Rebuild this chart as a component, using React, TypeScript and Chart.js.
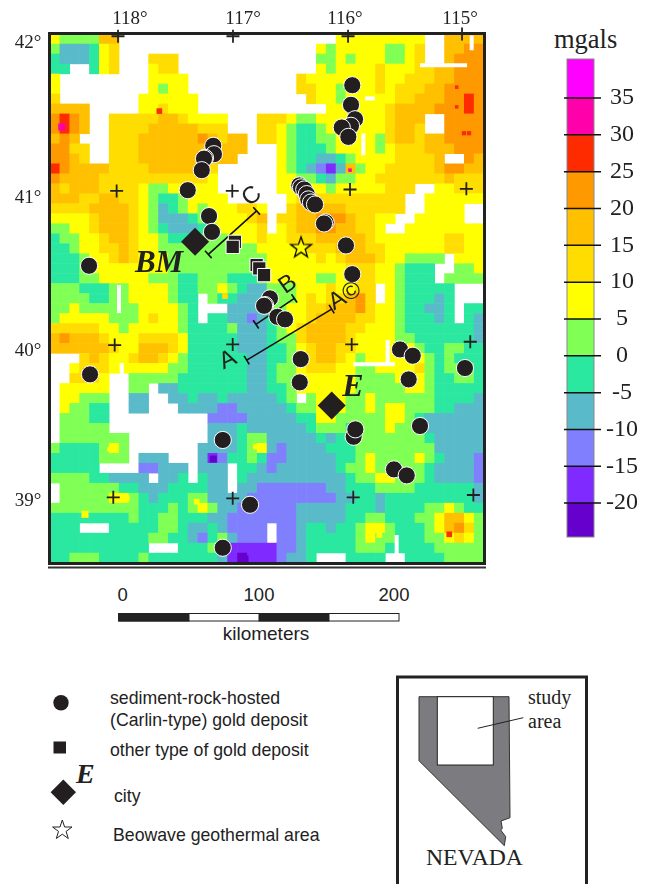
import React, { useEffect, useRef } from "react";
import { Chart, registerables } from "chart.js";

Chart.register(...registerables);

// Gravity levels: one key per colour-bar class
const levelKeys = ["a", "b", "c", "d", "e", "f", "g", "h", "i", "j", "k", "l", "m"];
const levelColors = ["#6600CC", "#7F2BFF", "#8080FF", "#59BBC9", "#2BE8A0", "#80FF55", "#FFFF00", "#FFDD00", "#FFC000", "#FF9900", "#FF2B00", "#FF00AA", "#FF00FF"];
const levelLows = [-24.6, -20, -15, -10, -5, 0, 5, 10, 15, 20, 25, 30, 35];
const levelHighs = [-20, -15, -10, -5, 0, 5, 10, 15, 20, 25, 30, 35, 40.3];
const colorTicks = [35, 30, 25, 20, 15, 10, 5, 0, -5, -10, -15, -20];

// Map extent in kilometres
const mapWidthKm = 310;
const mapHeightKm = 378;

// Gravity grid, north to south, west half + east half, "." = no data
const gravityRows = [
  "gffffii............... .......ggggggggg..iiii",
  "fdddegh............... .....gfgggggffgh..iijj",
  "edddegh...hhh......... .....ffgfgggffgh..ijjj",
  "ee..egh...ghh......... .....gfgggghggghhiijjj",
  "g.........gggg........ ...hggggggghgghhhiijjj",
  "g.........gfgg........ ...hhggfggghghhhiijjjj",
  "h........gggggg....... ....hggfggggghhiiijjkj",
  "iiii.....gghggg....... ......gggggghiiiijjjkj",
  "jkji..hhhhhiihgggg...h hhgffggggggghiii..jjjj",
  "jkji..hhhhiiiiihhh...h hgfeefgggggghiih..jjjj",
  "iji...hhhiiiiiijihii.h hgfeeffggggfhiihiijjjj",
  "jjhh..hhhiiiiiiiiiii.. .gfeeefggggfghhhiiijjj",
  "jjih..hhhiiiiiiiiii... .gfeeddefgggghhhhi..ji",
  "kjiiiihhhhiiiiiih..... .gfedcbdifgghhhhhijjii",
  "jiiiihhhhhhhhhhhg..... .ggffedffgghhhhhhhihhh",
  "ihiiihhhhgffggggg..... .gggggfggggghhh..gghhh",
  "iiihhiihhgfeefgggg.... ..ghhhhhhhhhhh..gggggg",
  "hhhhiiiihgfdefgfggghhg ..hiiiiihhhhhh..gggg..",
  "gggghiiihgfdddefgggghi .hhiijjjihhgg..ggggg..",
  "ffgghiiihgfedddefggggh .ghiijjiihhg..gggggggg",
  "effgghiihggfeeefffgggh gghhhiiiiihggggggghhgg",
  "eefgghhihggffffffffffg gggghhhiiihhgggggghhgg",
  "eeefgghihgggffffffffff ggggghghiiihggffff.ggg",
  "eeefggggggggffffffffff gggggggghhhggfeee..ffg",
  "eeeffgggggfffeefffeeef gggggffgghhggfeee.ffff",
  "fffeeeffggggfeeffgfedd fffggghgghh.gfeeeee...",
  "ffffeeffggggfee.feeddd fffghghhijh.gfeeede...",
  "ffgffffffggggfe...dddd ffgghhiiijhggfeedde.ee",
  "fgggggfffghggfe.eeddcd efgghiiiihhggfeeede.ed",
  "hhhhhggfgggggfeeeefddd efghiiiihhgggfeeeeeeed",
  "ijiiihggghhhhgeeeeeddd effhiiiihggggffeeeeeed",
  "iiiiiihggiiihgeeeeeddd eefghiihhggggggfeeffee",
  "...hihgghiihgfeeeeeedd eefghiihgfggggggfefeee",
  "..ghhhggggggffeeeeeedd effghhhggffgggghfefffe",
  "..hhhg..fffffeeeeeeedd effggggggffffgggfeeffe",
  ".ggggg..ff.ddeeeeeeedd eefggggggfffffggfeeeee",
  ".ggfff..dd..ddeddedddd def.fgggffgffffffeeeed",
  ".gffee..dd...ddddccddd ddeffgggffgfggfffeeddd",
  ".fffee..........ccccdd dddeeggfffffggfedddddd",
  ".fffff..........dddedd ddddefffefffgfffdddddd",
  ".fffffff........dddeff dddddedeefffffffeddddd",
  "feeeefgf.......ddddefg dcddddeeeffffffffddddd",
  "eeeeefff.ddd...dbceefe ccdddddeefgffffgfedddc",
  "eeeee....ccddd.ddd.eed cddddddeffgfffffeddddc",
  "ffffeedddd.dde.edd.edd ddddddddeffggfffeddddc",
  ".ffffffeedddeeeedd.ddc ccccccddeeeffffeeeeeed",
  ".fffffggfedeeeffddddcc cccccccddeedeeeeeeeeed",
  "fffffffffeeefefgfddccc cccdddddeeedeeeeffgfee",
  "eeeeeeeefeeffeeeddcccc cccdddddeeffeeeffgiigf",
  "eee...eeeeeffeddedcccc .ccdeedeefggfeeefgijhf",
  "eeeeeeeeeeffeedcefdccc .ccdeeeeefgffeeeffghgf",
  "eeeeeeeeee...eeefdbbbb bccdeeeeefffeeeeefffff",
  "eefffeeeefeeeeeeedbabb bcdde...eeee..eeeeffff",
];

// Small anomalies finer than the grid: [km east, km north, level, marker radius]
const gravitySpots: [number, number, string, number][] = [
  [78.1, 322.9, "k", 4], [8.4, 311.6, "l", 5], [214.3, 280.7, "l", 2.5],
  [295.7, 307.1, "k", 3], [299.3, 307.1, "k", 3], [290.5, 340, "k", 2.5], [290.5, 325.9, "k", 2.5],
  [285.2, 20.5, "k", 4], [116.6, 74.3, "a", 5], [139.3, 2.9, "a", 5],
  [147.1, 83.1, "g", 4], [104.8, 43.8, "g", 4], [54.8, 46.2, "g", 4], [42.4, 81.2, "g", 3],
  [125, 190.7, "h", 4], [25, 34.8, "g", 5], [235.2, 20, "g", 4],
];

// Thin no-data strips: [x1, y1, x2, y2] in km
const noDataStrips = [
  [216.7, 142.1, 246.4, 142.1], [241.2, 159.3, 241.2, 140.7], [223.8, 307.1, 223.8, 291.4],
  [49.3, 198.6, 49.3, 178.6], [51.2, 143, 51.2, 134], [301.2, 377, 301.2, 366.4],
  [264.3, 355.7, 297.9, 355.7], [247.6, 20, 247.6, 0.7], [225, 332, 232, 332],
];

// Graticule crossings, km east / km north
const graticuleX = [48.6, 130.7, 212.9, 294.3, 47.6, 130.2, 214.3, 297.4, 46.2, 130.5, 215.5, 300.2, 45.2, 130.5, 216.6, 302.4];
const graticuleY = [376.4, 376.4, 376.4, 378, 265.9, 265.9, 266.9, 267.4, 155.7, 156.2, 156.2, 158.1, 46.9, 46.2, 46.9, 48.6];

// Carlin-type deposits
const carlinX = [116.6, 117.1, 110.7, 110, 108.4, 98.4, 113.6, 115.7, 27.9, 215.9, 215, 217.9, 215, 208.4, 213.1, 178.1, 179.3, 181.6, 183.4, 184.5, 186.4, 189.3, 196.9, 195.7, 211.4, 215.9, 28.6, 123.4, 142.9, 123.4, 157.1, 153.6, 152.9, 162.4, 167.9, 179.1, 178.4, 250, 259.1, 256.2, 296.4, 216.9, 218.1, 264.3, 245.7, 254.8];
const carlinY = [298.1, 292.1, 289.5, 288.9, 280.7, 266.4, 247.9, 236.6, 212.4, 341.4, 327.4, 317.1, 312.4, 311.2, 304.5, 269.8, 268.4, 266.9, 263.6, 259.8, 257.6, 256.2, 243.4, 242.6, 226.9, 206.4, 134.8, 87.9, 41.6, 10.9, 189.1, 184.3, 183.8, 175.9, 174.1, 145.7, 129.1, 152.6, 148.1, 131.2, 139.3, 90.2, 95.5, 97.9, 66.9, 62.6];

// Other gold deposits
const otherX = [132.1, 130.5, 147.6, 149.5, 152.9];
const otherY = [229.5, 225.9, 212.9, 210.5, 205.7];

// Cities, geothermal area
const cityX = [103.6, 201.2];
const cityY = [229.5, 112.6];
const geothermalX = [179.3];
const geothermalY = [225.5];

// Section lines: start x, start y, end x, end y, cap rotation
const sectionLines = [
  [140.5, 145, 201.2, 181.4, 59],
  [147.1, 170.5, 174.5, 189.1, 56],
  [113.1, 220.5, 147.6, 251.6, 48],
];

// Text on the map: text, km east, km north, rotation, font
const SERIF = '"Liberation Serif"';
const SANS = '"Liberation Sans"';
const mapLabels: [string, number, number, number, string][] = [
  ["118°", 57.1, 388.5, 0, `19px ${SERIF}`],
  ["117°", 137.9, 388.5, 0, `19px ${SERIF}`],
  ["116°", 210.7, 388.5, 0, `19px ${SERIF}`],
  ["115°", 292.9, 388.5, 0, `19px ${SERIF}`],
  ["42°", -15.7, 371.5, 0, `19px ${SERIF}`],
  ["41°", -15.7, 260.5, 0, `19px ${SERIF}`],
  ["40°", -15.7, 151.5, 0, `19px ${SERIF}`],
  ["39°", -15.7, 44.5, 0, `19px ${SERIF}`],
  ["BM", 77.9, 213.5, 0, `italic bold 31px ${SERIF}`],
  ["E", 216.4, 125, 0, `italic bold 32px ${SERIF}`],
  ["A", 127.1, 145, -25, `24px ${SANS}`],
  ["A©", 210.7, 190.7, -31, `24px ${SANS}`],
  ["B", 170, 199, -35, `24px ${SANS}`],
  ["C", 144.3, 262.1, -42, `24px ${SANS}`],
];

const colorOf = (k: string) => levelColors[levelKeys.indexOf(k)];

function gravityCells() {
  const cells: { x: number; y: number; v: string }[] = [];
  const nRows = gravityRows.length;
  gravityRows.forEach((row, r) => {
    const [west, east] = row.split(" ");
    const line = west.padEnd(22, ".") + east.padEnd(22, ".");
    for (let c = 0; c < line.length; c++) {
      if (line[c] === ".") continue;
      cells.push({
        x: ((c + 0.5) * mapWidthKm) / 44,
        y: mapHeightKm - ((r + 0.5) * mapHeightKm) / nRows,
        v: line[c],
      });
    }
  });
  return cells;
}

function starCanvas() {
  const s = document.createElement("canvas");
  s.width = 26;
  s.height = 26;
  const g = s.getContext("2d")!;
  g.beginPath();
  for (let i = 0; i < 10; i++) {
    const r = i % 2 === 0 ? 11 : 4.4;
    const a = -Math.PI / 2 + (i * Math.PI) / 5;
    const px = 13 + r * Math.cos(a);
    const py = 13.5 + r * Math.sin(a);
    if (i === 0) g.moveTo(px, py);
    else g.lineTo(px, py);
  }
  g.closePath();
  g.strokeStyle = "#000";
  g.lineWidth = 1.3;
  g.stroke();
  return s;
}

const mapFrame = {
  id: "mapFrame",
  afterDatasetsDraw(chart: any) {
    const { ctx, chartArea: a, scales } = chart;
    ctx.save();
    ctx.strokeStyle = "#222";
    ctx.lineWidth = 3;
    ctx.strokeRect(a.left - 0.5, a.top - 0.5, a.right - a.left + 1, a.bottom - a.top + 1);
    ctx.lineWidth = 2;
    ctx.strokeStyle = "#333";
    ctx.beginPath();
    ctx.moveTo(a.left - 2, a.bottom + 4.5);
    ctx.lineTo(a.right + 2, a.bottom + 4.5);
    ctx.stroke();
    ctx.fillStyle = "#222";
    ctx.textAlign = "center";
    ctx.textBaseline = "middle";
    for (const [text, x, y, rot, font] of mapLabels) {
      ctx.save();
      ctx.translate(scales.x.getPixelForValue(x), scales.y.getPixelForValue(y));
      ctx.rotate((rot * Math.PI) / 180);
      ctx.font = font;
      ctx.fillText(text, 0, 0);
      ctx.restore();
    }
    ctx.restore();
  },
};

const colorBarTicks = {
  id: "colorBarTicks",
  afterDatasetsDraw(chart: any) {
    const { ctx, chartArea: a, scales } = chart;
    ctx.save();
    ctx.strokeStyle = "#888";
    ctx.lineWidth = 1;
    ctx.strokeRect(a.left, a.top, a.right - a.left, a.bottom - a.top);
    ctx.strokeStyle = "#111";
    ctx.lineWidth = 1.5;
    for (const t of colorTicks) {
      const y = scales.y.getPixelForValue(t);
      ctx.beginPath();
      ctx.moveTo(a.left - 3, y);
      ctx.lineTo(a.right + 7, y);
      ctx.stroke();
    }
    ctx.restore();
  },
};

const pts = (xs: number[], ys: number[]) => xs.map((x, i) => ({ x, y: ys[i] }));

export default function App() {
  const mapRef = useRef<HTMLCanvasElement>(null);
  const barRef = useRef<HTMLCanvasElement>(null);

  useEffect(() => {
    const datasets: any[] = [
      {
        label: "Gravity",
        data: gravityCells(),
        order: 20,
        pointStyle: "rect",
        pointRadius: 7.4,
        pointBorderWidth: 0,
        backgroundColor: (c: any) => colorOf(c.raw?.v ?? "e"),
      },
      {
        label: "Spots",
        data: gravitySpots.map(([x, y, v, r]) => ({ x, y, v, r })),
        order: 19,
        pointStyle: "rect",
        pointRadius: (c: any) => c.raw?.r ?? 3,
        pointBorderWidth: 0,
        backgroundColor: (c: any) => colorOf(c.raw?.v ?? "k"),
      },
      ...noDataStrips.map((s) => ({
        label: "No data",
        data: [{ x: s[0], y: s[1] }, { x: s[2], y: s[3] }],
        order: 18,
        showLine: true,
        borderColor: "#fff",
        borderWidth: 4,
        pointRadius: 0,
      })),
      {
        label: "Graticule",
        data: pts(graticuleX, graticuleY),
        order: 15,
        clip: false,
        pointStyle: "cross",
        pointRadius: 6.5,
        pointBorderColor: "#222",
        pointBorderWidth: 1.8,
      },
      ...sectionLines.map((s) => ({
        label: "Section",
        data: [{ x: s[0], y: s[1] }, { x: s[2], y: s[3] }],
        order: 12,
        clip: false,
        showLine: true,
        borderColor: "#111",
        borderWidth: 1.6,
        pointStyle: "line",
        pointRotation: s[4],
        pointRadius: 5,
        pointBorderColor: "#111",
        pointBorderWidth: 1.6,
      })),
      {
        label: "Geothermal",
        data: pts(geothermalX, geothermalY),
        order: 11,
        pointStyle: starCanvas(),
        pointRadius: 12,
      },
      {
        label: "Other",
        data: pts(otherX, otherY),
        order: 10,
        pointStyle: "rect",
        pointRadius: 9.4,
        pointBackgroundColor: "#231F20",
        pointBorderColor: "#fff",
        pointBorderWidth: 1,
      },
      {
        label: "Carlin",
        data: pts(carlinX, carlinY),
        order: 9,
        pointStyle: "circle",
        pointRadius: 8.6,
        pointBackgroundColor: "#231F20",
        pointBorderColor: "#fff",
        pointBorderWidth: 1,
      },
      {
        label: "City",
        data: pts(cityX, cityY),
        order: 8,
        pointStyle: "rectRot",
        pointRadius: 14,
        pointBackgroundColor: "#231F20",
        pointBorderWidth: 0,
      },
    ];

    const map = new Chart(mapRef.current!, {
      type: "scatter",
      data: { datasets },
      options: {
        animation: false,
        responsive: false,
        events: [],
        layout: { padding: { left: 50, top: 34, right: 166, bottom: 37 } },
        scales: {
          x: { type: "linear", min: 0, max: mapWidthKm, display: false },
          y: { type: "linear", min: 0, max: mapHeightKm, display: false },
        },
        plugins: { legend: { display: false }, tooltip: { enabled: false } },
      },
      plugins: [mapFrame],
    } as any);

    const bar = new Chart(barRef.current!, {
      type: "bar",
      data: {
        labels: ["mgals"],
        datasets: levelKeys.map((k, i) => ({
          label: k,
          data: [[levelLows[i], levelHighs[i]]],
          backgroundColor: levelColors[i],
          borderWidth: 0,
          grouped: false,
          barPercentage: 1,
          categoryPercentage: 1,
        })),
      },
      options: {
        animation: false,
        responsive: false,
        events: [],
        layout: { padding: { left: 27, top: 9, right: 0, bottom: 13 } },
        scales: {
          x: { display: false },
          y: {
            type: "linear",
            position: "right",
            min: -24.6,
            max: 40.3,
            afterBuildTicks: (s: any) => {
              s.ticks = colorTicks.map((value) => ({ value }));
            },
            afterFit: (s: any) => {
              s.width = 56;
              s.paddingTop = 0;
              s.paddingBottom = 0;
            },
            grid: { display: false, drawTicks: false },
            border: { display: false },
            ticks: {
              crossAlign: "center",
              padding: 12,
              autoSkip: false,
              color: "#222",
              font: { family: "Liberation Serif", size: 24 },
            },
          },
        },
        plugins: { legend: { display: false }, tooltip: { enabled: false } },
      },
      plugins: [colorBarTicks],
    } as any);

    return () => {
      map.destroy();
      bar.destroy();
    };
  }, []);

  const sans = { fontFamily: SANS, fill: "#222" };
  const serif = { fontFamily: SERIF, fill: "#222" };
  return (
    <div style={{ position: "absolute", left: 0, top: 0, width: 650, height: 884, overflow: "hidden", background: "#fff" }}>
      <svg width={650} height={884} style={{ position: "absolute", left: 0, top: 0 }}>
        <text x={554} y={48} fontSize={26.5} style={serif}>mgals</text>

        <text x={122.7} y={601} fontSize={18.5} textAnchor="middle" style={sans}>0</text>
        <text x={259} y={601} fontSize={18.5} textAnchor="middle" style={sans}>100</text>
        <text x={394} y={601} fontSize={18.5} textAnchor="middle" style={sans}>200</text>
        <rect x={118.5} y={613.5} width={280.5} height={7.5} fill="#fff" stroke="#222" strokeWidth={1} />
        <rect x={118.5} y={613} width={71} height={8.5} fill="#222" />
        <rect x={258.5} y={613} width={71} height={8.5} fill="#222" />
        <text x={266} y={640} fontSize={19} textAnchor="middle" style={sans}>kilometers</text>

        <circle cx={61} cy={702.7} r={7.7} fill="#231F20" />
        <text x={110} y={704} fontSize={17.7} style={sans}>sediment-rock-hosted</text>
        <text x={110} y={726} fontSize={17.7} style={sans}>(Carlin-type) gold deposit</text>
        <rect x={53.5} y={741.5} width={12.5} height={12} fill="#231F20" />
        <text x={110} y={756} fontSize={17.7} style={sans}>other type of gold deposit</text>
        <text x={76} y={783} fontSize={28} fontStyle="italic" fontWeight="bold" style={serif}>E</text>
        <polygon points="63.3,779.6 76,792.3 63.3,805 50.6,792.3" fill="#231F20" />
        <text x={114} y={802} fontSize={17.7} style={sans}>city</text>
        <polygon
          points="62.3,820 64.6,827 72,827 66.1,831.4 68.3,838.5 62.3,834.2 56.3,838.5 58.5,831.4 52.6,827 60,827"
          fill="none"
          stroke="#222"
          strokeWidth={1}
        />
        <text x={113} y={841} fontSize={17.7} style={sans}>Beowave geothermal area</text>

        <path d="M397.5 890 V677 H586.5 V890" fill="none" stroke="#222" strokeWidth={3} />
        <polygon
          points="419,696.7 509,696.7 510,817.7 501,821 502.3,828.3 500.7,830 505.7,836.7 504.3,845.7 419,760.7"
          fill="#7B7B80"
          stroke="#333"
          strokeWidth={1}
        />
        <rect x={437.3} y={696.7} width={56} height={68.3} fill="#fff" stroke="#222" strokeWidth={1} />
        <line x1={477.7} y1={728.3} x2={523.3} y2={717.7} stroke="#222" strokeWidth={1} />
        <text x={528} y={704} fontSize={20} style={serif}>study</text>
        <text x={528} y={728} fontSize={20} style={serif}>area</text>
        <text x={426} y={865} fontSize={23.7} style={serif}>NEVADA</text>
      </svg>
      <canvas ref={mapRef} width={650} height={600} style={{ position: "absolute", left: 0, top: 0, width: 650, height: 600 }} />
      <canvas ref={barRef} width={110} height={500} style={{ position: "absolute", left: 540, top: 50, width: 110, height: 500 }} />
    </div>
  );
}
